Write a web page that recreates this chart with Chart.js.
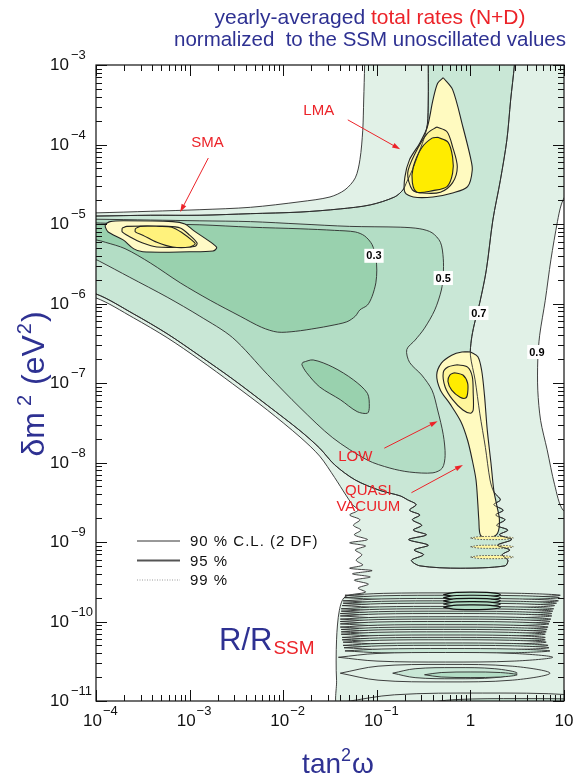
<!DOCTYPE html>
<html>
<head>
<meta charset="utf-8">
<script src="https://cdn.jsdelivr.net/npm/chart.js@4.4.1/dist/chart.umd.min.js"></script>
<style>
  html, body { margin: 0; padding: 0; background: #fff; }
  #wrap { width: 576px; height: 778px; position: relative; }
</style>
</head>
<body>
<div id="wrap"><canvas id="c" width="576" height="778"></canvas></div>
<script>
// ---- axes: decades of tan^2(omega) and delta m^2 ----
const xDecades = [-4, -3, -2, -1, 0, 1];
const yDecades = [-3, -4, -5, -6, -7, -8, -9, -10, -11];

// ---- iso-rate contours, points as [log10 tan^2w, log10 dm^2] ----
const rate09 = [[-1.13,-2.87],[-1.13,-3.00],[-1.14,-3.44],[-1.15,-3.82],[-1.18,-4.19],[-1.23,-4.42],[-1.34,-4.57],[-1.50,-4.66],[-1.82,-4.72],[-2.35,-4.79],[-2.89,-4.82],[-3.42,-4.84],[-4.00,-4.86],[-4.12,-4.86],[-4.12,-5.96],[-4.00,-5.93],[-3.60,-6.18],[-3.24,-6.43],[-2.89,-6.71],[-2.54,-7.01],[-2.17,-7.34],[-1.82,-7.68],[-1.61,-7.92],[-1.45,-8.19],[-1.33,-8.41],[-1.26,-8.53],[-1.20,-8.60],[-1.29,-8.66],[-1.18,-8.72],[-1.25,-8.79],[-1.17,-8.85],[-1.24,-8.91],[-1.10,-8.97],[-1.29,-9.01],[-1.12,-9.05],[-1.23,-9.10],[-1.16,-9.16],[-1.22,-9.23],[-1.15,-9.29],[-1.29,-9.33],[-1.05,-9.36],[-1.26,-9.40],[-1.07,-9.44],[-1.24,-9.48],[-1.09,-9.53],[-1.20,-9.58],[-1.12,-9.63],[-1.34,-9.69],[-1.40,-9.86],[-1.43,-10.23],[-1.43,-10.74],[-1.39,-11.11],[1.12,-11.11],[1.12,-8.60],[0.99,-8.60],[0.90,-8.28],[0.82,-7.84],[0.75,-7.47],[0.72,-7.09],[0.72,-6.71],[0.74,-6.40],[0.80,-5.96],[0.86,-5.45],[0.93,-4.97],[0.97,-4.76],[1.02,-4.64],[1.12,-4.57],[1.12,-2.87],[-1.13,-2.87]];

const rate07 = [[-0.45,-2.87],[-0.45,-3.00],[-0.45,-3.44],[-0.46,-3.75],[-0.50,-3.94],[-0.56,-4.13],[-0.62,-4.32],[-0.68,-4.47],[-0.72,-4.57],[-0.81,-4.66],[-1.07,-4.76],[-1.39,-4.81],[-1.82,-4.85],[-2.35,-4.87],[-2.89,-4.89],[-3.42,-4.89],[-4.00,-4.90],[-4.12,-4.90],[-4.12,-5.91],[-4.00,-5.88],[-3.60,-6.13],[-3.24,-6.38],[-2.89,-6.66],[-2.54,-6.95],[-2.17,-7.28],[-1.82,-7.60],[-1.61,-7.82],[-1.45,-8.03],[-1.23,-8.22],[-0.97,-8.35],[-0.75,-8.42],[-0.67,-8.47],[-0.58,-8.53],[-0.65,-8.60],[-0.54,-8.66],[-0.62,-8.72],[-0.52,-8.79],[-0.61,-8.85],[-0.47,-8.91],[-0.66,-8.97],[-0.45,-9.04],[-0.60,-9.10],[-0.50,-9.16],[-0.63,-9.23],[-0.54,-9.30],[-0.11,-9.33],[0.37,-9.30],[0.40,-9.23],[0.34,-9.16],[0.42,-9.10],[0.29,-9.04],[0.44,-8.97],[0.31,-8.91],[0.40,-8.85],[0.28,-8.79],[0.37,-8.72],[0.27,-8.66],[0.35,-8.60],[0.25,-8.53],[0.32,-8.47],[0.25,-8.37],[0.21,-8.22],[0.16,-7.81],[0.10,-7.38],[0.05,-6.96],[0.00,-6.65],[0.01,-6.46],[0.04,-6.27],[0.10,-5.99],[0.17,-5.58],[0.24,-4.95],[0.32,-4.45],[0.39,-3.94],[0.43,-3.44],[0.47,-3.00],[0.47,-2.87],[-0.45,-2.87]];

const rate05 = [[-4.12,-4.94],[-4.00,-4.94],[-3.42,-4.95],[-2.89,-4.96],[-2.35,-4.97],[-1.82,-5.00],[-1.29,-5.03],[-0.75,-5.04],[-0.54,-5.06],[-0.41,-5.11],[-0.32,-5.23],[-0.29,-5.43],[-0.29,-5.64],[-0.31,-5.83],[-0.38,-6.08],[-0.49,-6.31],[-0.59,-6.46],[-0.68,-6.58],[-0.65,-6.74],[-0.52,-6.90],[-0.41,-7.09],[-0.35,-7.34],[-0.29,-7.65],[-0.27,-7.91],[-0.30,-8.07],[-0.40,-8.13],[-0.65,-8.12],[-0.86,-8.07],[-1.10,-7.97],[-1.47,-7.69],[-1.82,-7.31],[-2.17,-6.89],[-2.54,-6.43],[-2.89,-6.16],[-3.24,-5.92],[-3.64,-5.67],[-3.96,-5.47],[-4.00,-5.45],[-4.12,-5.45],[-4.12,-4.94]];

const rate03 = [[-4.12,-4.98],[-3.90,-4.99],[-3.42,-5.00],[-2.89,-5.01],[-2.35,-5.04],[-1.82,-5.06],[-1.45,-5.08],[-1.23,-5.10],[-1.13,-5.15],[-1.05,-5.26],[-1.01,-5.43],[-1.00,-5.58],[-1.01,-5.74],[-1.05,-5.91],[-1.10,-6.02],[-1.18,-6.08],[-1.23,-6.16],[-1.32,-6.23],[-1.50,-6.28],[-1.64,-6.31],[-1.87,-6.35],[-2.06,-6.36],[-2.23,-6.30],[-2.46,-6.16],[-2.78,-5.96],[-3.10,-5.74],[-3.42,-5.49],[-3.69,-5.31],[-3.90,-5.23],[-4.00,-5.20],[-4.12,-5.20],[-4.12,-4.98]];

const rate03Island = [[-1.79,-6.74],[-1.68,-6.71],[-1.47,-6.80],[-1.25,-6.96],[-1.10,-7.13],[-1.08,-7.30],[-1.10,-7.38],[-1.21,-7.36],[-1.39,-7.21],[-1.61,-7.05],[-1.75,-6.87],[-1.80,-6.77],[-1.79,-6.74]];

// ---- allowed regions (90, 95, 99 % C.L.) ----
const smaCL99 = [[-3.90,-5.00],[-3.85,-4.97],[-3.71,-4.96],[-3.18,-4.97],[-3.05,-5.00],[-2.96,-5.08],[-2.75,-5.25],[-2.71,-5.30],[-2.75,-5.34],[-3.00,-5.35],[-3.50,-5.35],[-3.60,-5.31],[-3.71,-5.20],[-3.87,-5.10],[-3.90,-5.04],[-3.90,-5.00]];
const smaCL95 = [[-3.72,-5.05],[-3.67,-5.03],[-3.24,-5.03],[-3.10,-5.05],[-3.00,-5.14],[-2.92,-5.24],[-2.94,-5.28],[-3.03,-5.29],[-3.35,-5.29],[-3.50,-5.24],[-3.64,-5.16],[-3.72,-5.10],[-3.72,-5.05]];
const smaCL90 = [[-3.58,-5.06],[-3.53,-5.03],[-3.32,-5.03],[-3.19,-5.04],[-3.08,-5.11],[-2.97,-5.21],[-2.94,-5.25],[-3.00,-5.29],[-3.18,-5.29],[-3.35,-5.23],[-3.50,-5.14],[-3.58,-5.10],[-3.58,-5.06]];

const lmaCL99 = [[-0.29,-3.16],[-0.19,-3.31],[-0.08,-3.78],[0.00,-4.16],[0.02,-4.32],[-0.03,-4.53],[-0.19,-4.61],[-0.40,-4.66],[-0.61,-4.66],[-0.70,-4.60],[-0.70,-4.41],[-0.65,-4.19],[-0.54,-3.98],[-0.46,-3.78],[-0.40,-3.44],[-0.35,-3.23],[-0.29,-3.16]];
const lmaCL95 = [[-0.36,-3.78],[-0.25,-3.84],[-0.19,-4.03],[-0.14,-4.28],[-0.19,-4.48],[-0.32,-4.60],[-0.51,-4.61],[-0.62,-4.57],[-0.67,-4.36],[-0.59,-4.11],[-0.46,-3.86],[-0.36,-3.78]];
const lmaCL90 = [[-0.35,-3.91],[-0.24,-3.97],[-0.19,-4.16],[-0.19,-4.36],[-0.25,-4.53],[-0.40,-4.58],[-0.57,-4.60],[-0.62,-4.48],[-0.61,-4.28],[-0.52,-4.04],[-0.41,-3.92],[-0.35,-3.91]];

const lowCL99 = [[0.00,-6.61],[0.08,-6.67],[0.12,-6.84],[0.15,-7.15],[0.18,-7.59],[0.22,-8.01],[0.25,-8.35],[0.28,-8.53],[0.31,-8.72],[0.29,-8.89],[0.21,-8.95],[0.11,-8.92],[0.09,-8.72],[0.08,-8.53],[0.06,-8.22],[0.02,-7.97],[-0.03,-7.72],[-0.10,-7.49],[-0.22,-7.26],[-0.32,-7.09],[-0.36,-6.90],[-0.31,-6.75],[-0.20,-6.65],[-0.09,-6.61],[0.00,-6.61]];
const lowCL95 = [[-0.14,-6.77],[-0.03,-6.80],[0.02,-6.92],[0.03,-7.13],[0.03,-7.34],[0.00,-7.38],[-0.08,-7.34],[-0.19,-7.21],[-0.27,-7.05],[-0.29,-6.87],[-0.24,-6.80],[-0.14,-6.77]];
const lowCL90 = [[-0.17,-6.87],[-0.08,-6.90],[-0.03,-7.00],[-0.03,-7.13],[-0.05,-7.19],[-0.11,-7.18],[-0.20,-7.09],[-0.24,-6.98],[-0.22,-6.90],[-0.17,-6.87]];

// quasi-vacuum 99 % islands: [log tan2w left, right, log dm2 centre, half height]
const qvStrips = [[0.00,0.46,-8.95,0.02],[0.00,0.46,-9.06,0.02],[0.00,0.46,-9.19,0.02]];

// vacuum-oscillation lobes: [left, right, centre, half height, shade]
const vacuumLobes = [
  [-1.34,0.96,-9.67,0.03,0],[-1.35,0.95,-9.70,0.03,1],[-1.36,0.94,-9.74,0.03,0],[-1.36,0.92,-9.77,0.03,1],
  [-1.37,0.90,-9.80,0.03,0],[-1.38,0.89,-9.84,0.03,1],[-1.38,0.88,-9.87,0.03,0],[-1.39,0.87,-9.90,0.03,1],
  [-1.39,0.87,-9.93,0.03,0],[-1.39,0.86,-9.97,0.03,1],[-1.39,0.85,-10.00,0.03,0],[-1.39,0.84,-10.03,0.03,1],
  [-1.39,0.83,-10.07,0.03,0],[-1.38,0.82,-10.10,0.03,1],[-1.38,0.81,-10.13,0.03,0],[-1.38,0.80,-10.16,0.03,1],
  [-1.37,0.80,-10.20,0.03,0],[-1.37,0.80,-10.23,0.03,1],[-1.36,0.81,-10.26,0.03,0],[-1.36,0.83,-10.30,0.03,1],
  [-1.35,0.84,-10.33,0.03,0],[-1.34,0.85,-10.37,0.03,1],
  [-1.41,0.88,-10.45,0.06,0],[-1.39,0.85,-10.65,0.11,0],[-0.83,0.50,-10.65,0.07,1],[-0.49,0.50,-10.67,0.035,2],
  [-1.34,1.60,-11.01,0.11,0],[-0.54,1.60,-11.03,0.06,1]
];
const vacuumCore = [[-0.29,0.32,-9.66,0.03],[-0.29,0.32,-9.70,0.03],[-0.29,0.32,-9.74,0.03],[-0.29,0.32,-9.78,0.03],[-0.29,0.32,-9.82,0.03]];

// ---- annotations ----
const contourTags = [['0.3',-1.03,-5.40],['0.5',-0.29,-5.68],['0.7',0.09,-6.12],['0.9',0.71,-6.61]];
const regionTags = [['SMA',-2.81,-3.98],['LMA',-1.62,-3.58],['LOW',-1.23,-7.93],['QUASI',-1.09,-8.36],['VACUUM',-1.09,-8.56]];
const pointerArrows = [[-2.80,-4.17,-3.10,-4.85],[-1.31,-3.69,-0.75,-4.06],[-0.92,-7.82,-0.35,-7.48],[-0.63,-8.38,-0.08,-8.03]];
const legendRows = [['90 % C.L. (2 DF)','solid'],['95 %','thick'],['99 %','dotted']];

const BLUE = '#2e3192', RED = '#ec2329';
const SHADE = ['#e1f1e7', '#c9e7d6', '#b3ddc5', '#99d1ae'];
const LINE = '#2b2b2b';

const toXY = pts => pts.map(([u, v]) => ({x: Math.pow(10, u), y: Math.pow(10, v)}));
function lens([uL, uR, vC, h]) {
  const w = uR - uL, m = (uL + uR) / 2;
  return [[uL, vC], [uL + 0.18 * w, vC + 0.8 * h], [m, vC + h], [uR - 0.18 * w, vC + 0.8 * h], [uR, vC],
          [uR - 0.18 * w, vC - 0.8 * h], [m, vC - h], [uL + 0.18 * w, vC - 0.8 * h], [uL, vC]];
}

// layers listed bottom to top
const layers = [];
function shape(pts, fillColor, opts = {}) {
  layers.push(Object.assign({
    data: toXY(pts), showLine: true, pointRadius: 0, pointHoverRadius: 0,
    fill: fillColor ? 'shape' : false, backgroundColor: fillColor || 'transparent',
    borderColor: LINE, borderWidth: 0.9, tension: 0.3
  }, opts));
}
shape(rate09, SHADE[0]);
shape(rate07, SHADE[1]);
shape(rate05, SHADE[2]);
shape(rate03, SHADE[3]);
shape(rate03Island, SHADE[3]);
vacuumLobes.forEach(l => shape(lens(l), SHADE[l[4]], {borderWidth: 0.9, tension: 0.35}));
vacuumCore.forEach(l => shape(lens(l), SHADE[2], {borderWidth: 1.2, borderColor: '#111', tension: 0.35}));
shape(smaCL99, '#fffac6', {borderWidth: 1.1, borderColor: '#222'});
shape(smaCL95, '#fff5a2', {borderWidth: 1.1, borderColor: '#222'});
shape(smaCL90, '#fff27c', {borderWidth: 1.1, borderColor: '#222'});
shape(lmaCL99, '#fffac0', {borderWidth: 1.1, borderColor: '#222'});
shape(lmaCL95, '#fff59c', {borderWidth: 1.1, borderColor: '#222'});
shape(lmaCL90, '#ffec00', {borderWidth: 1.1, borderColor: '#222'});
shape(lowCL99, '#fffac0', {borderWidth: 1.1, borderColor: '#222'});
shape(lowCL95, '#fff59c', {borderWidth: 1.1, borderColor: '#222'});
shape(lowCL90, '#ffec00', {borderWidth: 1.1, borderColor: '#222'});
qvStrips.forEach(l => shape(lens(l), '#fff5a0', {borderWidth: 1, borderColor: '#555', borderDash: [1.5, 1.5], tension: 0.35}));
shape(rate07, null);   // 0.7 isoline runs across the LMA and LOW islands
layers.forEach((d, i) => { d.order = -i; });

const overlay = {
  id: 'overlay',
  afterDatasetsDraw(chart) {
    const {ctx, chartArea: a, scales: {x: sx, y: sy}} = chart;
    const px = u => sx.getPixelForValue(Math.pow(10, u));
    const py = v => sy.getPixelForValue(Math.pow(10, v));
    ctx.save();
    // pointer arrows
    ctx.strokeStyle = RED; ctx.fillStyle = RED; ctx.lineWidth = 1;
    for (const [u0, v0, u1, v1] of pointerArrows) {
      const x0 = px(u0), y0 = py(v0), x1 = px(u1), y1 = py(v1);
      const t = Math.atan2(y1 - y0, x1 - x0), c = Math.cos(t), s = Math.sin(t);
      ctx.beginPath(); ctx.moveTo(x0, y0); ctx.lineTo(x1 - 6 * c, y1 - 6 * s); ctx.stroke();
      ctx.beginPath(); ctx.moveTo(x1, y1);
      ctx.lineTo(x1 - 8 * c + 2.6 * s, y1 - 8 * s - 2.6 * c);
      ctx.lineTo(x1 - 8 * c - 2.6 * s, y1 - 8 * s + 2.6 * c);
      ctx.closePath(); ctx.fill();
    }
    // region names
    ctx.font = '15px "Liberation Sans"'; ctx.textAlign = 'center'; ctx.textBaseline = 'middle';
    for (const [name, u, v] of regionTags) ctx.fillText(name, px(u), py(v));
    // isoline values
    ctx.font = 'bold 11px "Liberation Sans"';
    for (const [txt, u, v] of contourTags) {
      const x = px(u), y = py(v), w = ctx.measureText(txt).width + 4;
      ctx.fillStyle = '#fff'; ctx.fillRect(x - w / 2, y - 7, w, 14);
      ctx.fillStyle = '#000'; ctx.fillText(txt, x, y + 0.5);
    }
    // C.L. key
    ctx.textAlign = 'left'; ctx.font = '15px "Liberation Sans"';
    if ('letterSpacing' in ctx) ctx.letterSpacing = '1px';
    legendRows.forEach(([txt, style], i) => {
      const y = a.top + 476 + i * 19.5;
      ctx.beginPath(); ctx.moveTo(a.left + 41, y); ctx.lineTo(a.left + 84, y);
      ctx.setLineDash(style === 'dotted' ? [1, 1.5] : []);
      ctx.strokeStyle = style === 'dotted' ? '#9a9a9a' : (style === 'thick' ? '#555' : '#333');
      ctx.lineWidth = style === 'thick' ? 2 : 1;
      ctx.stroke();
      ctx.fillStyle = '#111'; ctx.fillText(txt, a.left + 94, y + 1);
    });
    ctx.setLineDash([]);
    if ('letterSpacing' in ctx) ctx.letterSpacing = '0px';
    // R / R_SSM
    ctx.textBaseline = 'alphabetic';
    ctx.font = '31px "Liberation Sans"'; ctx.fillStyle = BLUE;
    ctx.fillText('R/R', a.left + 123, a.top + 585);
    const wR = ctx.measureText('R/R').width;
    ctx.font = '19px "Liberation Sans"'; ctx.fillStyle = RED;
    ctx.fillText('SSM', a.left + 124 + wR, a.top + 589);
    ctx.restore();
  },
  afterDraw(chart) {
    const {ctx, chartArea: a, scales: {x: sx, y: sy}} = chart;
    ctx.save();
    // frame
    ctx.strokeStyle = '#111'; ctx.lineWidth = 1.2;
    ctx.strokeRect(a.left, a.top, a.right - a.left, a.bottom - a.top);
    // inward ticks
    ctx.lineWidth = 1; ctx.beginPath();
    for (let d = -4; d <= 1; d++) for (let k = 1; k <= 9; k++) {
      if (d === 1 && k > 1) break;
      const x = Math.round(sx.getPixelForValue(k * Math.pow(10, d))) + 0.5, L = k === 1 ? 11 : 6;
      ctx.moveTo(x, a.bottom); ctx.lineTo(x, a.bottom - L);
      ctx.moveTo(x, a.top); ctx.lineTo(x, a.top + L);
    }
    for (let d = -11; d <= -3; d++) for (let k = 1; k <= 9; k++) {
      if (d === -3 && k > 1) break;
      const y = Math.round(sy.getPixelForValue(k * Math.pow(10, d))) + 0.5, L = k === 1 ? 11 : 6;
      ctx.moveTo(a.left, y); ctx.lineTo(a.left + L, y);
      ctx.moveTo(a.right, y); ctx.lineTo(a.right - L, y);
    }
    ctx.stroke();
    // tick labels
    ctx.fillStyle = '#111'; ctx.textBaseline = 'alphabetic';
    const F = '17px "Liberation Sans"', S = '13px "Liberation Sans"';
    for (const d of yDecades) {
      const y = sy.getPixelForValue(Math.pow(10, d));
      ctx.font = F; ctx.textAlign = 'right'; ctx.fillText('10', a.left - 27, y + 5);
      ctx.font = S; ctx.textAlign = 'left'; ctx.fillText('\u2212' + (-d), a.left - 25, y - 6);
    }
    for (const d of xDecades) {
      const x = sx.getPixelForValue(Math.pow(10, d)), y = a.bottom + 25;
      if (d < 0) {
        ctx.font = F; ctx.textAlign = 'right'; ctx.fillText('10', x + 6, y);
        ctx.font = S; ctx.textAlign = 'left'; ctx.fillText('\u2212' + (-d), x + 7, y - 11);
      } else {
        ctx.font = F; ctx.textAlign = 'center'; ctx.fillText(d === 0 ? '1' : '10', x, y);
      }
    }
    // x axis title: tan^2 omega
    ctx.fillStyle = BLUE; ctx.textAlign = 'left';
    const xt = [['tan', 0, 28], ['2', 12, 18], ['\u03c9', 0, 28]];
    let xw = 0;
    for (const [t, r, f] of xt) { ctx.font = f + 'px "Liberation Sans"'; xw += ctx.measureText(t).width + (r ? 1 : 0); }
    let xx = (a.left + a.right) / 2 + 8 - xw / 2;
    for (const [t, r, f] of xt) { ctx.font = f + 'px "Liberation Sans"'; ctx.fillText(t, xx, 773 - r); xx += ctx.measureText(t).width + (r ? 1 : 0); }
    // y axis title: delta m^2 (eV^2)
    ctx.save();
    ctx.translate(44, 384); ctx.rotate(-Math.PI / 2);
    const yt = [['\u03b4m', 0, 32, 6], ['2', 13, 20, 10], ['(eV', 0, 32, 1], ['2', 13, 20, 1], [')', 0, 32, 0]];
    let yw = 0;
    for (const [t, r, f, g] of yt) { ctx.font = f + 'px "Liberation Sans"'; yw += ctx.measureText(t).width + g; }
    let cy = -yw / 2;
    for (const [t, r, f, g] of yt) { ctx.font = f + 'px "Liberation Sans"'; ctx.fillText(t, cy, -r); cy += ctx.measureText(t).width + g; }
    ctx.restore();
    // title
    const runs1 = [['yearly-averaged ', BLUE], ['total rates ', RED], ['(N+D)', RED]];
    ctx.font = '21px "Liberation Sans"';
    let w1 = 0; runs1.forEach(([t]) => { w1 += ctx.measureText(t).width; });
    let tx = 370 - w1 / 2;
    runs1.forEach(([t, c]) => { ctx.fillStyle = c; ctx.fillText(t, tx, 24); tx += ctx.measureText(t).width; });
    ctx.font = '20.5px "Liberation Sans"';
    ctx.fillStyle = BLUE; ctx.textAlign = 'center';
    ctx.fillText('normalized  to the SSM unoscillated values', 370, 46);
    ctx.restore();
  }
};

new Chart(document.getElementById('c'), {
  type: 'scatter',
  data: {datasets: layers},
  options: {
    responsive: false, animation: false, devicePixelRatio: 1,
    layout: {padding: {left: 96, top: 65, right: 12, bottom: 77}},
    elements: {line: {capBezierPoints: false}},
    plugins: {legend: {display: false}, tooltip: {enabled: false}, title: {display: false}},
    events: [],
    scales: {
      x: {type: 'logarithmic', min: 1e-4, max: 10, display: false},
      y: {type: 'logarithmic', min: 1e-11, max: 1e-3, display: false}
    }
  },
  plugins: [overlay]
});
</script>
</body>
</html>
